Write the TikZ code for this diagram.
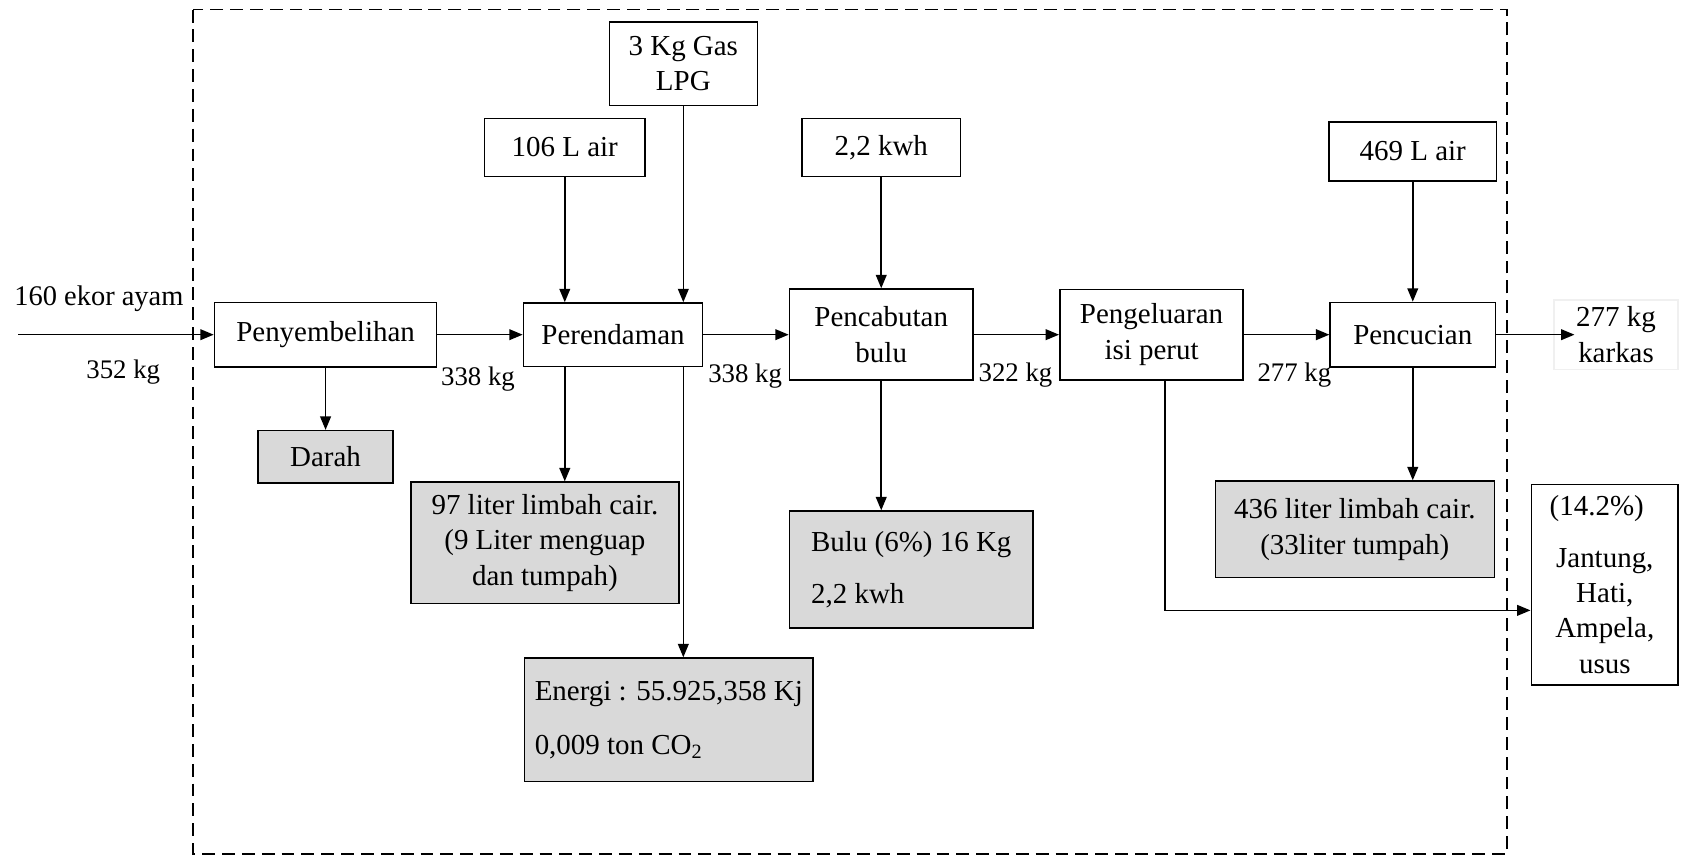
\documentclass[tikz,border=0pt]{standalone}
\usepackage{fontspec}
\setmainfont{Liberation Serif}
\usetikzlibrary{positioning}
\usetikzlibrary{arrows.meta}
\tikzset{%
	% Specifications for style of nodes:
	base/.style = {rectangle, draw=black, line width=0.6pt,
		inner sep=2pt, align=center,
		font=\fontsize{10.8}{13.2}\selectfont},
	process/.style = {base, fill=white},
	waste/.style = {base, fill=black!15},
	mass/.style = {inner sep=0pt, font=\fontsize{10}{12}\selectfont},
	flow/.style = {line width=0.6pt, -{Triangle[length=5pt, width=4pt]}},
	boundary/.style = {line width=0.5pt, dash pattern=on 4.8pt off 2.6pt},
}
\begin{document}
\begin{tikzpicture}[x=0.4pt, y=-0.4pt, node distance=31.8pt]
	\useasboundingbox (0,0) rectangle (1568,798);
	
	% system boundary
	\draw[boundary] (180,9) rectangle (1405,796);
	
	% process line
	\node (pen) [process, minimum width=82.8pt, minimum height=24pt] at (303.5,312) {Penyembelihan};
	\node (ren) [process, minimum width=66.8pt, minimum height=23.6pt, right=of pen] {Perendaman};
	\node (cab) [process, minimum width=68.4pt, minimum height=34pt, right=of ren] {Pencabutan\\bulu};
	\node (kel) [process, minimum width=68.4pt, minimum height=33.6pt, right=of cab] {Pengeluaran\\isi perut};
	\node (cuc) [process, minimum width=61.6pt, minimum height=24pt, right=of kel] {Pencucian};
	\node (karkas) [base, draw=black!6, minimum width=46.4pt, minimum height=26pt, right=21.2pt of cuc] {277 kg\\karkas};
	
	% inputs
	\node (air1) [process, minimum width=60pt, minimum height=21.6pt, above=46.6pt of ren, xshift=-18pt] {106 L air};
	\node (lpg) [process, minimum width=55.2pt, minimum height=31.2pt, above=73pt of ren, xshift=26.2pt] {3 Kg Gas\\LPG};
	\node (kwh) [process, minimum width=59.2pt, minimum height=21.6pt, above=41.4pt of cab] {2,2 kwh};
	\node (air2) [process, minimum width=62.4pt, minimum height=22pt, above=44.8pt of cuc] {469 L air};
	
	% outputs
	\node (darah) [waste, minimum width=50.4pt, minimum height=19.6pt, below=23.2pt of pen] {Darah};
	\node (limbah1) [waste, minimum width=100pt, minimum height=45.2pt, below=42.6pt of ren, xshift=-25.4pt] {97 liter limbah cair.\\(9 Liter menguap\\dan tumpah)};
	\node (energi) [waste, align=left, minimum width=107.6pt, minimum height=46pt, below=108.2pt of ren, xshift=20.8pt] {Energi : 55.925,358 Kj\\[6.8pt]0,009 ton CO\textsubscript{2}};
	\node (bulu) [waste, align=left, minimum width=90.8pt, minimum height=43.6pt, below=48.2pt of cab, xshift=11.2pt] {Bulu (6\%) 16 Kg\\[6pt]2,2 kwh};
	\node (limbah2) [waste, minimum width=104pt, minimum height=36pt, below=42pt of cuc, xshift=-21.6pt] {436 liter limbah cair.\\(33liter tumpah)};
	\node (jeroan) [process, minimum width=54.8pt, minimum height=74.8pt, below=42.2pt of karkas, xshift=-4.2pt] {(14.2\%)\hspace*{6pt}\\[6pt]Jantung,\\Hati,\\Ampela,\\usus};
	
	% mass flow labels
	\coordinate (src) at (17,312);
	\node (nIn) [mass, font=\fontsize{10.6}{12}\selectfont, anchor=base west] at ([xshift=-1.6pt, yshift=10.8pt]src) {160 ekor ayam};
	\node (mIn) [mass, anchor=base west] at ([xshift=25.2pt, yshift=-16.4pt]src) {352 kg};
	\node (m1) [mass, anchor=base west] at ([xshift=1.2pt, yshift=-19pt]pen.east) {338 kg};
	\node (m2) [mass, anchor=base west] at ([xshift=1.6pt, yshift=-18pt]ren.east) {338 kg};
	\node (m3) [mass, anchor=base west] at ([xshift=1.6pt, yshift=-17.6pt]cab.east) {322 kg};
	\node (m4) [mass, anchor=base west] at ([xshift=4.8pt, yshift=-17.6pt]kel.east) {277 kg};
	
	% connectors
	\draw[flow] (src) -- (pen);
	\draw[flow] (pen) -- (ren);
	\draw[flow] (ren) -- (cab);
	\draw[flow] (cab) -- (kel);
	\draw[flow] (kel) -- (cuc);
	\draw[flow] (cuc) -- ([xshift=8pt]karkas.west);
	\draw[flow] (air1) -- (air1 |- ren.north);
	\draw[flow] (lpg) -- (lpg |- ren.north);
	\draw[flow] (kwh) -- (cab);
	\draw[flow] (air2) -- (cuc);
	\draw[flow] (pen) -- (darah);
	\draw[flow] (air1 |- ren.south) -- (air1 |- limbah1.north);
	\draw[flow] (lpg |- ren.south) -- (lpg |- energi.north);
	\draw[flow] (cab) -- (cab |- bulu.north);
	\draw[flow] (cuc) -- (cuc |- limbah2.north);
	\draw[flow] ([xshift=5pt]kel.south) |- ([yshift=-9.6pt]jeroan.west);
\end{tikzpicture}
\end{document}
